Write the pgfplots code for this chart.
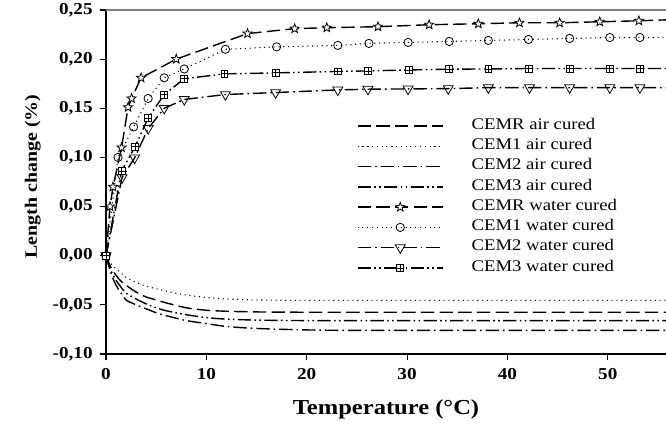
\documentclass[border=0pt]{standalone}
\usepackage{fontspec}
\setmainfont{Liberation Serif}[FakeStretch=1.15]
\usepackage{pgfplots}
\pgfplotsset{compat=1.18}

\pgfdeclareplotmark{ostar}{%
  \pgfpathmoveto{\pgfpointpolar{90}{\pgfplotmarksize}}%
  \pgfpathlineto{\pgfpointpolar{126}{0.42\pgfplotmarksize}}%
  \pgfpathlineto{\pgfpointpolar{162}{\pgfplotmarksize}}%
  \pgfpathlineto{\pgfpointpolar{198}{0.42\pgfplotmarksize}}%
  \pgfpathlineto{\pgfpointpolar{234}{\pgfplotmarksize}}%
  \pgfpathlineto{\pgfpointpolar{270}{0.42\pgfplotmarksize}}%
  \pgfpathlineto{\pgfpointpolar{306}{\pgfplotmarksize}}%
  \pgfpathlineto{\pgfpointpolar{342}{0.42\pgfplotmarksize}}%
  \pgfpathlineto{\pgfpointpolar{18}{\pgfplotmarksize}}%
  \pgfpathlineto{\pgfpointpolar{54}{0.42\pgfplotmarksize}}%
  \pgfpathclose
  \pgfusepathqfillstroke
}
\pgfdeclareplotmark{boxplus}{%
  \pgfpathrectangle{\pgfqpoint{-\pgfplotmarksize}{-\pgfplotmarksize}}{\pgfqpoint{2\pgfplotmarksize}{2\pgfplotmarksize}}%
  \pgfusepathqfillstroke
  \pgfpathmoveto{\pgfqpoint{-\pgfplotmarksize}{0pt}}\pgfpathlineto{\pgfqpoint{\pgfplotmarksize}{0pt}}%
  \pgfpathmoveto{\pgfqpoint{0pt}{-\pgfplotmarksize}}\pgfpathlineto{\pgfqpoint{0pt}{\pgfplotmarksize}}%
  \pgfusepathqstroke
}

\tikzset{
  dA/.style={line width=1.05pt, dash pattern=on 10pt off 4pt},
  dB/.style={line width=0.8pt, dash pattern=on 0.8pt off 2.8pt},
  dC/.style={line width=1.05pt, dash pattern=on 10pt off 3pt on 1.2pt off 3pt},
  dD/.style={line width=1.05pt, dash pattern=on 10pt off 2.5pt on 1.2pt off 2.5pt on 1.2pt off 2.5pt},
  mk/.style={solid, fill=white, line width=0.6pt},
}

\begin{document}
\begin{tikzpicture}
\begin{axis}[
  name=ax,
  scale only axis, width=420pt, height=258pt,
  xmin=0, xmax=55.8, ymin=-0.1, ymax=0.25,
  axis x line*=bottom, axis y line*=left,
  axis line style={-, line width=0.8pt, black},
  xtick={0,10,20,30,40,50},
  ytick={-0.1,-0.05,0,0.05,0.1,0.15,0.2,0.25},
  tick align=outside, major tick length=4.5pt,
  tick style={line width=0.8pt, black},
  tick label style={font=\fontsize{12.5}{15}\selectfont\bfseries},
  /pgf/number format/assume math mode=true,
  yticklabel style={/pgf/number format/fixed, /pgf/number format/fixed zerofill,
    /pgf/number format/precision=2, /pgf/number format/use comma, xshift=-2pt},
  xticklabel style={yshift=-3pt},
  xlabel={Temperature (°C)},
  ylabel={Length change (\%)},
  xlabel style={font=\fontsize{16}{19}\selectfont\bfseries,
    at={([yshift=-45.75pt]axis description cs:0.5,0)}, anchor=base},
  ylabel style={font=\fontsize{13}{15}\selectfont\bfseries,
    at={([xshift=-51.75pt]axis description cs:0,0.516)}, anchor=base, rotate=0},
  legend style={at={(axis description cs:0.448,0.692)}, anchor=north west,
    draw=none, fill=none, inner sep=0pt, outer sep=0pt,
    font=\fontsize{12.2}{14}\selectfont, row sep=0pt,
    nodes={inner sep=0pt, text height=10pt, text depth=5.2pt},
    /tikz/every odd column/.append style={column sep=21pt}},
  legend cell align=left,
  legend image code/.code={\draw[mark repeat=2,mark phase=2,#1] plot coordinates {(0pt,0pt)(32pt,0pt)(64pt,0pt)};},
]
% air cured
\addplot[dA, smooth] coordinates {(0,0)(0.5,-0.012)(1,-0.02)(1.5,-0.026)(2,-0.03)(3,-0.037)(4,-0.042)(5,-0.045)(6,-0.048)(8,-0.053)(10,-0.0555)(12,-0.0565)(15,-0.0572)(20,-0.0575)(30,-0.0575)(40,-0.0575)(56,-0.0575)};
\addlegendentry{CEMR air cured}
\addplot[dB, smooth] coordinates {(0,0)(0.5,-0.008)(1,-0.013)(2,-0.022)(3,-0.027)(4,-0.031)(6,-0.036)(8,-0.040)(10,-0.0425)(12,-0.044)(15,-0.045)(20,-0.0455)(30,-0.0455)(56,-0.0455)};
\addlegendentry{CEM1 air cured}
\addplot[dC, smooth] coordinates {(0,0)(0.5,-0.018)(1,-0.03)(1.5,-0.038)(2,-0.045)(3,-0.05)(4,-0.054)(5,-0.058)(6,-0.061)(8,-0.066)(10,-0.069)(12,-0.072)(15,-0.074)(20,-0.0755)(25,-0.076)(35,-0.076)(56,-0.076)};
\addlegendentry{CEM2 air cured}
\addplot[dD, smooth] coordinates {(0,0)(0.5,-0.015)(1,-0.025)(1.5,-0.032)(2,-0.038)(3,-0.044)(4,-0.049)(5,-0.053)(6,-0.056)(8,-0.060)(10,-0.063)(12,-0.0645)(15,-0.0655)(20,-0.066)(30,-0.066)(56,-0.066)};
\addlegendentry{CEM3 air cured}
% water cured
\addplot[dA, mark=ostar, mark size=3.6pt, mark options={mk}] coordinates {(0,0)(0.4,0.05)(0.7,0.07)(1.55,0.11)(2.2,0.151)(2.55,0.16)(3.5,0.181)(7.0,0.200)(14.1,0.226)(18.8,0.231)(22.0,0.232)(27.1,0.233)(32.2,0.235)(37.1,0.236)(41.2,0.237)(45.2,0.237)(49.2,0.238)(53.1,0.239)(55.9,0.240)};
\addlegendentry{CEMR water cured}
\addplot[dB, mark=o, mark size=3.1pt, mark options={mk}] coordinates {(0,0)(1.2,0.1)(2.75,0.131)(4.2,0.160)(5.8,0.181)(7.8,0.190)(11.9,0.210)(17.0,0.2125)(23.1,0.214)(26.2,0.216)(30.1,0.217)(34.2,0.218)(38.1,0.219)(42.1,0.220)(46.2,0.221)(50.2,0.222)(53.2,0.222)(55.9,0.222)};
\addlegendentry{CEM1 water cured}
\addplot[dC, mark=triangle, mark size=4.3pt, mark options={mk, rotate=180}] coordinates {(0,0)(1.6,0.0795)(2.85,0.0995)(4.2,0.1295)(5.8,0.150)(7.8,0.159)(11.9,0.164)(16.9,0.166)(23.1,0.1687)(26.1,0.1694)(30.1,0.1697)(34.1,0.170)(38.1,0.171)(42.2,0.171)(46.2,0.171)(50.2,0.171)(53.2,0.171)(55.9,0.171)};
\addlegendentry{CEM2 water cured}
\addplot[dD, mark=boxplus, mark size=2.6pt, mark options={mk}] coordinates {(0,0)(1.55,0.086)(2.9,0.111)(4.2,0.140)(5.8,0.164)(7.8,0.180)(11.8,0.185)(16.9,0.186)(23.1,0.1875)(26.1,0.188)(30.2,0.189)(34.2,0.1898)(38.1,0.190)(42.1,0.1905)(46.2,0.1905)(50.2,0.1905)(53.2,0.1905)(55.9,0.1905)};
\addlegendentry{CEM3 water cured}
\end{axis}
\draw[line width=0.8pt, gray] (ax.north west) -- (ax.north east);
\pgfresetboundingbox
\path[use as bounding box] ([shift={(-79.5pt,-54pt)}]ax.south west) rectangle ([shift={(0pt,7.5pt)}]ax.north east);
\end{tikzpicture}
\end{document}
